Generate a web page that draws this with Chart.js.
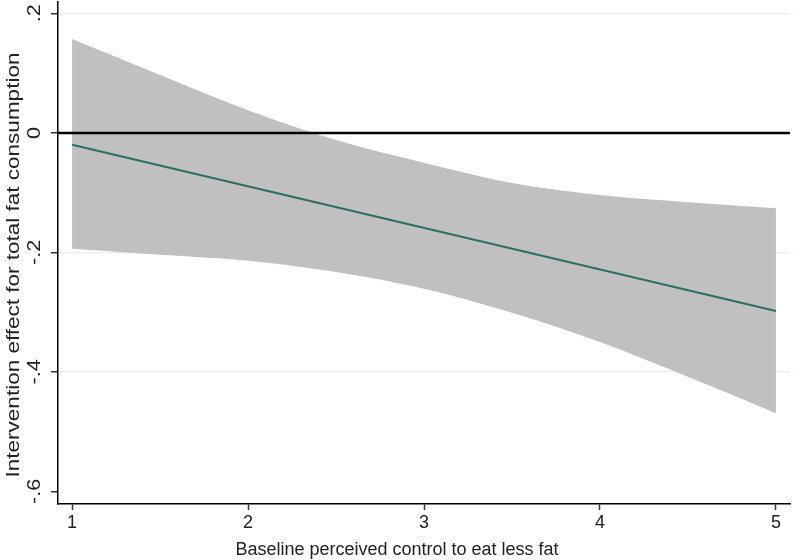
<!DOCTYPE html>
<html>
<head>
<meta charset="utf-8">
<script src="https://cdn.jsdelivr.net/npm/chart.js@4/dist/chart.umd.min.js"></script>
<style>
  html, body { margin: 0; padding: 0; background: #fff; }
  #wrap { width: 800px; height: 560px; }
</style>
</head>
<body>
<div id="wrap"><canvas id="chart" width="800" height="560"></canvas></div>
<script>
// x values (baseline perceived control)
const xs = [1, 1.5, 2, 2.5, 3, 3.5, 4, 4.5, 5];
// confidence band
const upperCI = [0.157, 0.097, 0.038, -0.012, -0.050, -0.084, -0.104, -0.116, -0.126];
const lowerCI = [-0.194, -0.204, -0.214, -0.233, -0.261, -0.301, -0.350, -0.408, -0.469];
// fitted effect
const lineX = [1, 5];
const effect = [-0.020, -0.298];
// ticks
const xTicks = [1, 2, 3, 4, 5];
const yTicks = [0.2, 0, -0.2, -0.4, -0.6];
const yTickLabels = [".2", "0", "-.2", "-.4", "-.6"];
const xTitle = "Baseline perceived control to eat less fat";
const yTitle = "Intervention effect for total fat consumption";

const font = "'Liberation Sans', Arial, sans-serif";
const textColor = "#222";

// zero line, rotated y labels and axis titles
const extras = {
  id: "extras",
  afterDatasetsDraw(chart) {
    const { ctx, chartArea, scales } = chart;
    const y0 = scales.y.getPixelForValue(0);
    ctx.save();
    ctx.strokeStyle = "#000";
    ctx.lineWidth = 2.5;
    ctx.beginPath();
    ctx.moveTo(chartArea.left, y0);
    ctx.lineTo(chartArea.right, y0);
    ctx.stroke();
    ctx.restore();
  },
  afterDraw(chart) {
    const { ctx, scales } = chart;
    ctx.save();
    ctx.fillStyle = textColor;
    ctx.font = "18px " + font;
    // y tick labels, reading bottom to top
    yTicks.forEach((v, i) => {
      const py = scales.y.getPixelForValue(v);
      ctx.save();
      ctx.translate(40, py);
      ctx.rotate(-Math.PI / 2);
      ctx.scale(1.2, 1);
      ctx.textAlign = "center";
      ctx.textBaseline = "alphabetic";
      ctx.fillText(yTickLabels[i], 0, 0);
      ctx.restore();
    });
    // y title
    ctx.save();
    ctx.translate(19, 265);
    ctx.rotate(-Math.PI / 2);
    ctx.scale(1.25, 1);
    ctx.textAlign = "center";
    ctx.textBaseline = "alphabetic";
    ctx.fillText(yTitle, 0, 0);
    ctx.restore();
    // x title
    ctx.textAlign = "center";
    ctx.textBaseline = "alphabetic";
    ctx.fillText(xTitle, 397, 555);
    ctx.restore();
  }
};

const ctx = document.getElementById("chart").getContext("2d");
new Chart(ctx, {
  type: "line",
  data: {
    datasets: [
      {
        label: "lower",
        data: xs.map((x, i) => ({ x: x, y: lowerCI[i] })),
        borderWidth: 0,
        pointRadius: 0,
        cubicInterpolationMode: "monotone",
        fill: false,
        order: 2
      },
      {
        label: "upper",
        data: xs.map((x, i) => ({ x: x, y: upperCI[i] })),
        borderWidth: 0,
        pointRadius: 0,
        cubicInterpolationMode: "monotone",
        backgroundColor: "#c0c0c0",
        fill: "-1",
        order: 2
      },
      {
        label: "effect",
        data: lineX.map((x, i) => ({ x: x, y: effect[i] })),
        borderColor: "#2b6e62",
        borderWidth: 2,
        pointRadius: 0,
        fill: false,
        order: 0
      }
    ]
  },
  options: {
    responsive: false,
    animation: false,
    layout: { padding: { top: 2, right: 10, left: 0, bottom: 0 } },
    plugins: { legend: { display: false }, tooltip: { enabled: false } },
    scales: {
      x: {
        type: "linear",
        min: 0.92,
        max: 5.08,
        afterBuildTicks(scale) { scale.ticks = xTicks.map(v => ({ value: v })); },
        afterFit(scale) { scale.height = 56; },
        border: { color: "#000", width: 1.5 },
        grid: { drawOnChartArea: false, tickLength: 6, tickColor: "#333", tickWidth: 1.5 },
        ticks: { color: textColor, font: { family: font, size: 18 }, padding: 2, maxRotation: 0 }
      },
      y: {
        min: -0.621,
        max: 0.219,
        afterBuildTicks(scale) { scale.ticks = yTicks.map(v => ({ value: v })); },
        afterFit(scale) { scale.width = 58; },
        border: { color: "#000", width: 1.5 },
        grid: {
          color: c => (c.tick && (c.tick.value === 0 || c.tick.value === -0.6)) ? "rgba(0,0,0,0)" : "#e8f0f2",
          lineWidth: 1.5,
          tickLength: 7,
          tickColor: "#333",
          tickWidth: 1.5
        },
        ticks: { display: false }
      }
    }
  },
  plugins: [extras]
});
</script>
</body>
</html>
